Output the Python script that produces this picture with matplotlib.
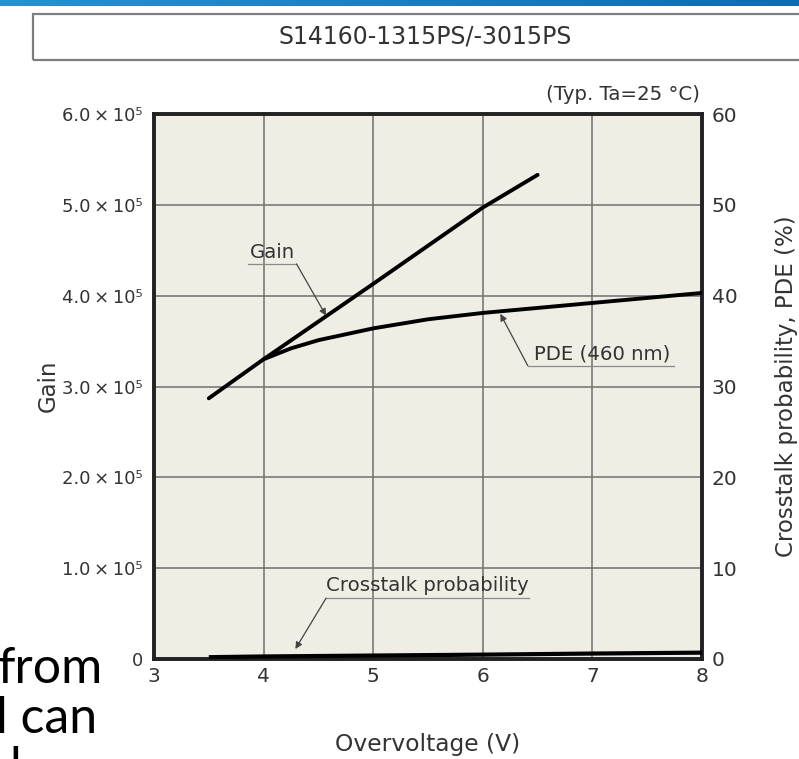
import numpy as np
import matplotlib.pyplot as plt
from matplotlib.patches import Rectangle
from matplotlib.colors import LinearSegmentedColormap

# ------------------------------------------------------------------
# data
# ------------------------------------------------------------------
gain_v    = [3.5, 4.0, 5.0, 6.0, 6.5]
gain      = [2.87e5, 3.30e5, 4.13e5, 4.97e5, 5.33e5]

pde_v     = [4.0, 4.25, 4.5, 5.0, 5.5, 6.0, 7.0, 8.0]
pde       = [33.0, 34.2, 35.1, 36.4, 37.4, 38.1, 39.2, 40.3]

xtalk_v   = [3.5, 4.0, 5.0, 6.0, 7.0, 8.0]
xtalk     = [0.2, 0.28, 0.38, 0.48, 0.6, 0.7]

xticks      = [3, 4, 5, 6, 7, 8]
gain_ticks  = [0, 1e5, 2e5, 3e5, 4e5, 5e5, 6e5]
gain_labels = ["0"] + [f"{k}.0\u2009×\u200910⁵" for k in range(1, 7)]
pct_ticks   = [0, 10, 20, 30, 40, 50, 60]

TXT  = "#333333"
BG   = "#efede4"
GRID = "#707070"

plt.rcParams["font.family"] = ["DejaVu Sans"]

fig = plt.figure(figsize=(7.99, 7.59), dpi=100)

# blue band along the top edge
band = fig.add_axes([0, 1 - 6 / 759, 1, 6 / 759])
cmap = LinearSegmentedColormap.from_list("band", ["#2592d6", "#0a6db6"])
band.imshow(np.linspace(0, 1, 256)[None, :], aspect="auto", cmap=cmap)
band.axis("off")

# title frame
fig.patches.append(Rectangle((33 / 799, 1 - 60 / 759), 0.99, 46 / 759,
                             transform=fig.transFigure, fill=False,
                             edgecolor="#7d7d7d", lw=1.6))
fig.text(425 / 799, 1 - 37 / 759, "S14160-1315PS/-3015PS", ha="center",
         va="center", fontsize=17, color=TXT)

ax = fig.add_axes([154 / 799, 1 - 659 / 759, 548 / 799, 545 / 759])
ax2 = ax.twinx()

ax.set_facecolor(BG)
ax.set_xlim(3, 8)
ax.set_ylim(0, 6e5)
ax2.set_ylim(0, 60)

ax.set_xticks(xticks)
ax.set_xticklabels([str(t) for t in xticks])
ax.set_yticks(gain_ticks)
ax.set_yticklabels(gain_labels)
ax2.set_yticks(pct_ticks)

ax.tick_params(axis="x", length=0, pad=6, labelsize=14.5, labelcolor=TXT)
ax.tick_params(axis="y", length=0, pad=8, labelsize=13, labelcolor=TXT)
ax2.tick_params(axis="y", length=0, pad=7, labelsize=14.5, labelcolor=TXT)

ax.grid(True, color=GRID, lw=1.1)
for a in (ax, ax2):
    for s in a.spines.values():
        s.set_linewidth(2.6)
        s.set_color("#222222")

ax.plot(gain_v, gain, color="black", lw=2.8, solid_capstyle="round", zorder=3)
ax2.plot(pde_v, pde, color="black", lw=2.8, solid_capstyle="round", zorder=3)
ax2.plot(xtalk_v, xtalk, color="black", lw=3.0, solid_capstyle="butt", zorder=3)

# curve labels: underlined text with a leader arrow onto the curve
labels = [
    ("Gain",                  (4.08, 44.7), (3.86, 4.30, 43.5), 4.30, (4.57, 37.8)),
    ("PDE (460 nm)",          (7.09, 33.6), (6.41, 7.74, 32.3), 6.41, (6.16, 38.0)),
    ("Crosstalk probability", (5.49, 8.1),  (4.57, 6.42, 6.7),  4.57, (4.29, 1.1)),
]
for text, (tx, ty), (u0, u1, uy), lx, tip in labels:
    ax2.text(tx, ty, text, ha="center", va="center", fontsize=14.2,
             color=TXT, zorder=4)
    ax2.plot([u0, u1], [uy, uy], color="#8a8a8a", lw=0.9, zorder=4)
    ax2.annotate("", xy=tip, xytext=(lx, uy),
                 arrowprops=dict(arrowstyle="-|>", color="#444444", lw=0.9,
                                 mutation_scale=10, shrinkA=0, shrinkB=0),
                 zorder=4)

fig.text(700 / 799, 1 - 95 / 759, "(Typ. Ta=25 °C)", ha="right", va="center",
         fontsize=14.2, color=TXT)
fig.text(48 / 799, 1 - 386 / 759, "Gain", rotation=90, ha="center",
         va="center", fontsize=16.5, color=TXT)
fig.text(428 / 799, 1 - 751 / 759, "Overvoltage (V)", ha="center",
         va="baseline", fontsize=16.8, color=TXT)
fig.text(786 / 799, 1 - 386 / 759, "Crosstalk probability, PDE (%)",
         rotation=90, ha="center", va="center", fontsize=16.5, color=TXT)

# body text running in from the left margin
body = dict(fontsize=36, color="black", family=["Lato", "DejaVu Sans"],
            va="baseline", ha="left")
fig.text(-2 / 799, 1 - 683 / 759, "from", **body)
fig.text(-4 / 799, 1 - 733 / 759, "l can", **body)
fig.text(9 / 799, 1 - 783 / 759, "l", **body)

fig.savefig("out.png", dpi=100)
